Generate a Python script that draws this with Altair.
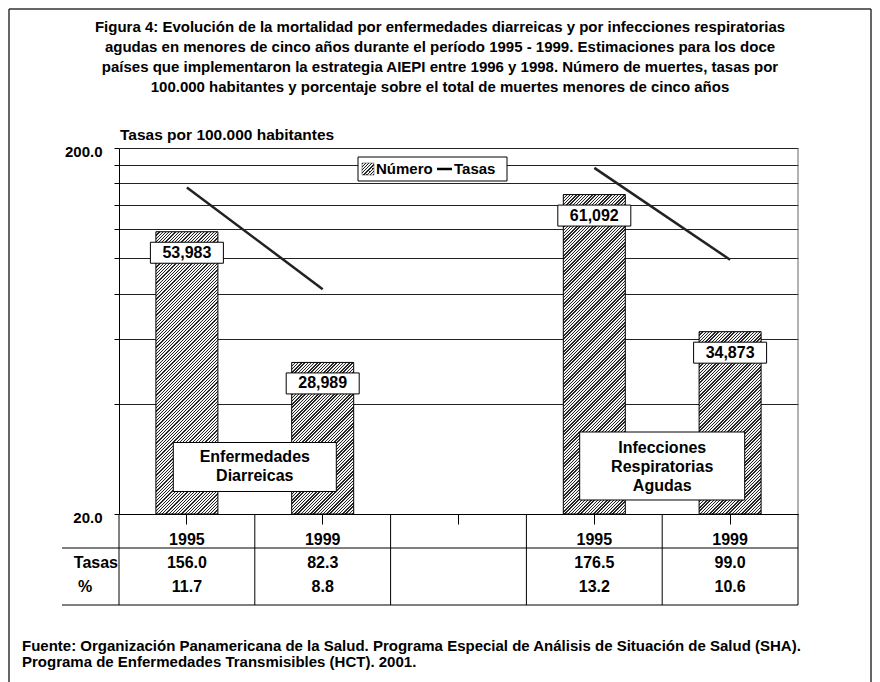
import altair as alt
import pandas as pd

# ---------------- data ----------------
categories = ["EDA 1995", "EDA 1999", "gap", "IRA 1995", "IRA 1999"]
years = ["1995", "1999", "", "1995", "1999"]
bar_categories = ["EDA 1995", "EDA 1999", "IRA 1995", "IRA 1999"]
bar_groups = ["EDA", "EDA", "IRA", "IRA"]
numbers = [53983, 28989, 61092, 34873]
tasas = [156.0, 82.3, 176.5, 99.0]
pct = [11.7, 8.8, 13.2, 10.6]
y_ticks = [20, 40, 60, 80, 100, 120, 140, 160, 180, 200]
group_names = [["Enfermedades", "Diarreicas"], ["Infecciones", "Respiratorias", "Agudas"]]
group_anchor = ["EDA 1999", "IRA 1999"]
title_lines = [
    "Figura 4: Evolución de la mortalidad por enfermedades diarreicas y por infecciones respiratorias",
    "agudas en menores de cinco años durante el período 1995 - 1999. Estimaciones para los doce",
    "países que implementaron la estrategia AIEPI entre 1996 y 1998. Número de muertes, tasas por",
    "100.000 habitantes y porcentaje sobre el total de muertes menores de cinco años",
]
footnote_lines = [
    "Fuente: Organización Panamericana de la Salud. Programa Especial de Análisis de Situación de Salud (SHA).",
    "Programa de Enfermedades Transmisibles (HCT). 2001.",
]
y_title = "Tasas por 100.000 habitantes"
legend_labels = ["Número", "Tasas"]
row_labels = ["Tasas", "%"]

# ---------------- layout ----------------
FONT = "Liberation Sans Narrow, Arial Narrow, Liberation Sans, Arial, sans-serif"
W, H = 679, 366
BAR_MAX = 70000
BAR_W = 62

bars_df = pd.DataFrame({"cat": bar_categories, "group": bar_groups, "num": numbers,
                        "lab": [f"{n:,}" for n in numbers], "tasa": tasas})
table_df = pd.DataFrame({"cat": categories, "year": years})
vals_df = pd.DataFrame({"cat": bar_categories,
                        "tasa_s": [f"{t:.1f}" for t in tasas],
                        "pct_s": [f"{p:.1f}" for p in pct]})
one = pd.DataFrame({"d": [0]})

xscale = alt.Scale(domain=categories, paddingInner=0, paddingOuter=0)
xaxis = alt.Axis(labels=False, title=None, tickSize=10, tickColor="black",
                 domainColor="black", grid=False, ticks=True)
X = alt.X("cat:N", scale=xscale, axis=xaxis)
bar_scale = alt.Scale(domain=[0, BAR_MAX], nice=False, zero=True)


def hatch(w, h, period=3.2, dark="#262626", light="#f2f2f2", duty=0.42):
    r = h / w
    k = (1 + r) / (1 + r * r)
    total = w + h
    n = int(total / period) + 1
    stops = []
    for i in range(n):
        a = min(i * period / total, 1)
        b = min((i * period + duty * period) / total, 1)
        c = min((i + 1) * period / total, 1)
        stops += [alt.GradientStop(offset=a, color=dark), alt.GradientStop(offset=b, color=dark),
                  alt.GradientStop(offset=b, color=light), alt.GradientStop(offset=c, color=light)]
    return alt.LinearGradient(gradient="linear", x1=0, y1=0, x2=k, y2=k * r, stops=stops)


def box_shape(w, h):
    m = max(w, h)
    a, b = w / m, h / m
    return f"M{-a:.4f},{-b:.4f}L{a:.4f},{-b:.4f}L{a:.4f},{b:.4f}L{-a:.4f},{b:.4f}Z", m * m


layers = []

# bars (hatched)
for c, n in zip(bar_categories, numbers):
    hpx = n / BAR_MAX * H
    layers.append(
        alt.Chart(bars_df).transform_filter(alt.datum.cat == c).mark_bar(
            size=BAR_W, fill=hatch(BAR_W, hpx), stroke="black", strokeWidth=1
        ).encode(x=X, y=alt.Y("num:Q", scale=bar_scale, axis=None))
    )

# value label boxes
vshape, vsize = box_shape(73, 21)
layers.append(
    alt.Chart(bars_df).mark_point(shape=vshape, size=vsize, filled=True, fill="white",
                                  stroke="black", strokeWidth=1, opacity=1, yOffset=21)
    .encode(x=X, y=alt.Y("num:Q", scale=bar_scale, axis=None))
)
layers.append(
    alt.Chart(bars_df).mark_text(font=FONT, fontSize=16, fontWeight="bold", yOffset=21,
                                 baseline="middle", color="black")
    .encode(x=X, y=alt.Y("num:Q", scale=bar_scale, axis=None), text="lab:N")
)

# rate lines (log scale with visible axis)
yaxis = alt.Axis(values=y_ticks, title=None, grid=True, gridColor="#222222", gridWidth=1,
                 tickSize=5, tickColor="black", domainColor="black",
                 labelExpr="datum.value == 20 || datum.value == 200 ? format(datum.value, '.1f') : ''",
                 labelFont=FONT, labelFontSize=15, labelFontWeight="bold", labelColor="black",
                 labelPadding=12, labelOffset=3)
layers.append(
    alt.Chart(bars_df).mark_line(color="#222222", strokeWidth=2.5)
    .encode(x=X, y=alt.Y("tasa:Q", scale=alt.Scale(type="log", domain=[20, 200], nice=False), axis=yaxis),
            detail="group:N")
)

# right border of plot
layers.append(alt.Chart(one).mark_rule(color="#666666", strokeWidth=1)
              .encode(x=alt.value(W), y=alt.value(0), y2=alt.value(H)))

# group label boxes (y: box centre, text: first line centre)
for (anchor, lines, bw, bh, ybox, ytxt) in [(group_anchor[0], group_names[0], 163, 49, 319, 309),
                                            (group_anchor[1], group_names[1], 165, 68, 318, 299.5)]:
    gdf = pd.DataFrame({"cat": [anchor], "txt": [lines]})
    shp, sz = box_shape(bw, bh)
    Xb = alt.X("cat:N", scale=xscale, axis=xaxis, bandPosition=0)
    layers.append(alt.Chart(gdf).mark_point(shape=shp, size=sz, filled=True, fill="white",
                                            stroke="black", strokeWidth=1, opacity=1)
                  .encode(x=Xb, y=alt.value(ybox)))
    layers.append(alt.Chart(gdf).mark_text(font=FONT, fontSize=16, fontWeight="bold",
                                           baseline="middle", lineHeight=19.3, color="black")
                  .encode(x=Xb, y=alt.value(ytxt), text="txt"))

# legend (drawn)
lg_fill = hatch(12, 12, period=3.2)
layers.append(alt.Chart(one).mark_rect(fill="white", stroke="black", strokeWidth=1)
              .encode(x=alt.value(239), x2=alt.value(388), y=alt.value(9), y2=alt.value(33)))
layers.append(alt.Chart(one).mark_rect(fill=lg_fill, stroke="#333333", strokeWidth=0.5)
              .encode(x=alt.value(243), x2=alt.value(255), y=alt.value(15), y2=alt.value(27)))
layers.append(alt.Chart(one).mark_text(text=legend_labels[0], font=FONT, fontSize=15, fontWeight="bold",
                                       align="left", baseline="middle", color="black")
              .encode(x=alt.value(257), y=alt.value(21)))
layers.append(alt.Chart(one).mark_rule(color="black", strokeWidth=2.5)
              .encode(x=alt.value(318), x2=alt.value(333), y=alt.value(21)))
layers.append(alt.Chart(one).mark_text(text=legend_labels[1], font=FONT, fontSize=15, fontWeight="bold",
                                       align="left", baseline="middle", color="black")
              .encode(x=alt.value(335), y=alt.value(21)))

# y title
layers.append(alt.Chart(one).mark_text(text=y_title, font=FONT, fontSize=15.5, fontWeight="bold",
                                       align="left", baseline="middle", color="black")
              .encode(x=alt.value(1), y=alt.value(-13)))

# title (first line centre)
layers.append(alt.Chart(one).mark_text(text="\n".join(title_lines), lineBreak="\n", lineHeight=20,
                                       font=FONT, fontSize=15, fontWeight="bold", align="center",
                                       baseline="middle", color="black")
              .encode(x=alt.value(321), y=alt.value(-121)))

# data table
Xs = alt.X("cat:N", scale=xscale, axis=xaxis, bandPosition=0)
layers.append(alt.Chart(table_df).mark_rule(color="black", strokeWidth=1)
              .encode(x=Xs, y=alt.value(H), y2=alt.value(457)))
layers.append(alt.Chart(one).mark_rule(color="black", strokeWidth=1)
              .encode(x=alt.value(W), y=alt.value(H), y2=alt.value(457)))
for yy in [400, 457]:
    layers.append(alt.Chart(one).mark_rule(color="black", strokeWidth=1)
                  .encode(x=alt.value(-57), x2=alt.value(W), y=alt.value(yy)))
layers.append(alt.Chart(table_df).mark_text(font=FONT, fontSize=16, fontWeight="bold",
                                            baseline="middle", color="black")
              .encode(x=X, y=alt.value(392), text="year:N"))
layers.append(alt.Chart(vals_df).mark_text(font=FONT, fontSize=16, fontWeight="bold",
                                           baseline="middle", color="black")
              .encode(x=X, y=alt.value(415), text="tasa_s:N"))
layers.append(alt.Chart(vals_df).mark_text(font=FONT, fontSize=16, fontWeight="bold",
                                           baseline="middle", color="black")
              .encode(x=X, y=alt.value(439), text="pct_s:N"))
layers.append(alt.Chart(one).mark_text(text=row_labels[0], font=FONT, fontSize=16, fontWeight="bold",
                                       align="right", baseline="middle", color="black")
              .encode(x=alt.value(-1), y=alt.value(415)))
layers.append(alt.Chart(one).mark_text(text=row_labels[1], font=FONT, fontSize=16, fontWeight="bold",
                                       align="center", baseline="middle", color="black")
              .encode(x=alt.value(-34), y=alt.value(439)))

# footnote (first line centre)
layers.append(alt.Chart(one).mark_text(text="\n".join(footnote_lines), lineBreak="\n", lineHeight=16,
                                       font=FONT, fontSize=15, fontWeight="bold", align="left",
                                       baseline="middle", color="black")
              .encode(x=alt.value(-97), y=alt.value(498)))

# outer frame
layers.append(alt.Chart(one).mark_rule(color="#333333", strokeWidth=1.5)
              .encode(x=alt.value(-110), y=alt.value(-139), y2=alt.value(540)))
layers.append(alt.Chart(one).mark_rule(color="#333333", strokeWidth=1.5)
              .encode(x=alt.value(-110), x2=alt.value(752), y=alt.value(-139)))
layers.append(alt.Chart(one).mark_rule(color="#333333", strokeWidth=1.5)
              .encode(x=alt.value(752), y=alt.value(-139), y2=alt.value(540)))

chart = alt.layer(*layers).resolve_scale(y="independent").properties(
    width=W, height=H, autosize="none",
    padding={"left": 111, "top": 140, "right": 74, "bottom": 168},
    background="white",
).configure_view(stroke=None)

chart.save("out.html", embed_options={"renderer": "svg", "actions": False})
